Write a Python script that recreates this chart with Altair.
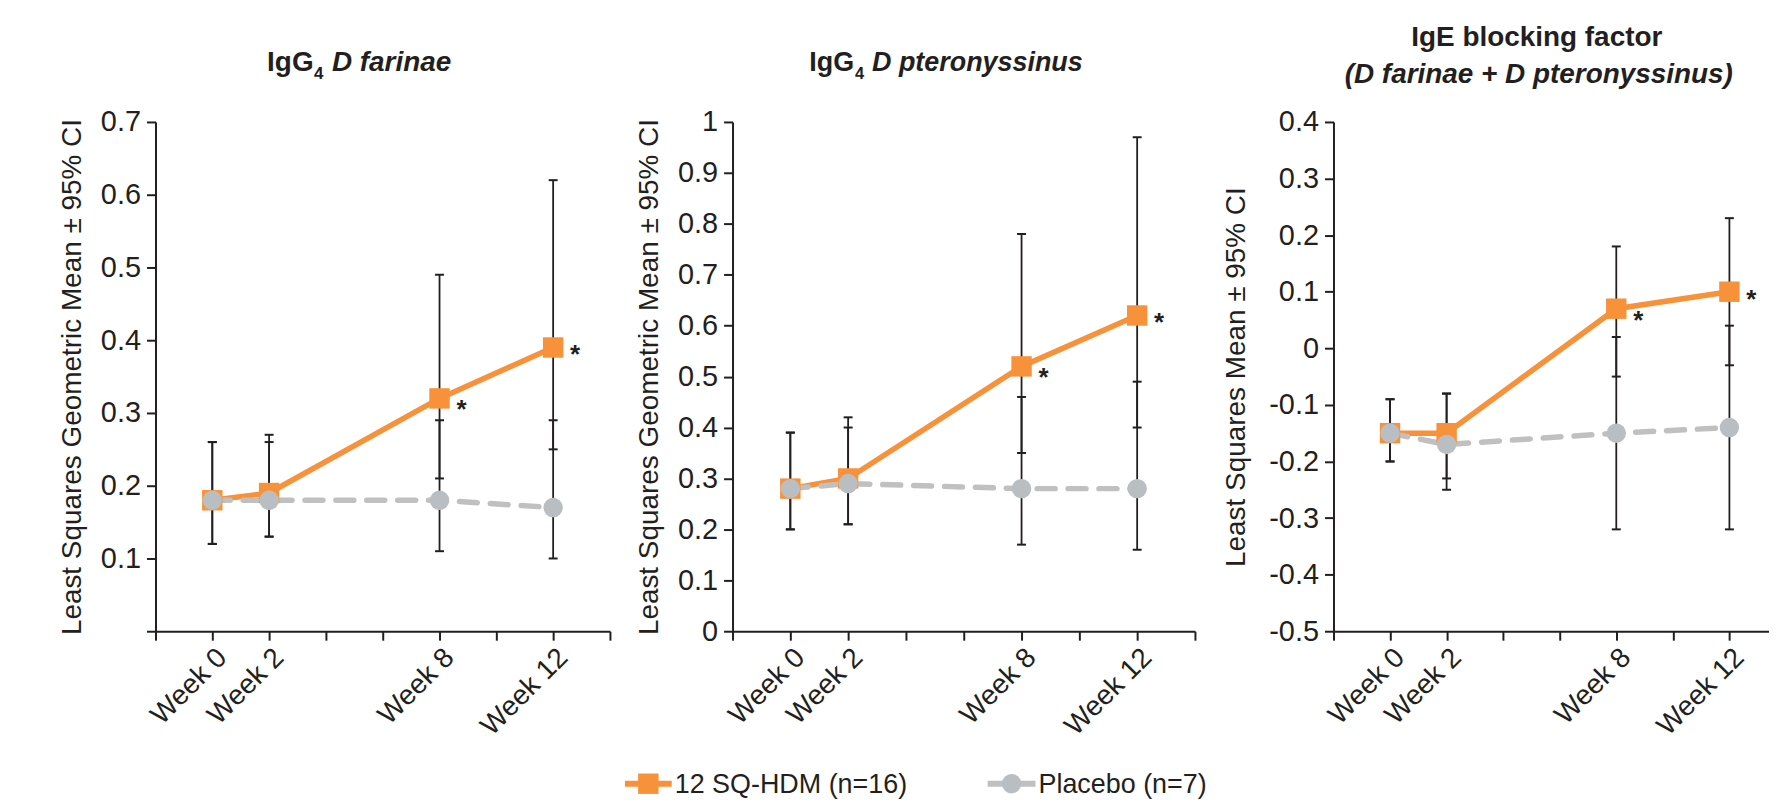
import altair as alt
import pandas as pd

FONT = "Liberation Sans"
ORANGE = "#F7923A"
GREY_PT = "#B9BEC2"
GREY_LN = "#C0C0C0"
INK = "#231F20"

weeks = [0, 2, 8, 12]
axis_tick_weeks = [-2, 0, 2, 4, 6, 8, 10, 12, 14]
labelled_weeks = [0, 2, 8, 12]
groups = ["12 SQ-HDM (n=16)", "Placebo (n=7)"]
significant = [False, False, True, True]

# IgG4 D farinae
fa_act_mean = [0.18, 0.19, 0.32, 0.39]
fa_act_lo = [0.12, 0.13, 0.21, 0.25]
fa_act_hi = [0.26, 0.26, 0.49, 0.62]
fa_pla_mean = [0.18, 0.18, 0.18, 0.17]
fa_pla_lo = [0.12, 0.13, 0.11, 0.10]
fa_pla_hi = [0.26, 0.27, 0.29, 0.29]

# IgG4 D pteronyssinus
pt_act_mean = [0.28, 0.30, 0.52, 0.62]
pt_act_lo = [0.20, 0.21, 0.35, 0.40]
pt_act_hi = [0.39, 0.40, 0.78, 0.97]
pt_pla_mean = [0.28, 0.29, 0.28, 0.28]
pt_pla_lo = [0.20, 0.21, 0.17, 0.16]
pt_pla_hi = [0.39, 0.42, 0.46, 0.49]

# IgE blocking factor
ib_act_mean = [-0.15, -0.15, 0.07, 0.10]
ib_act_lo = [-0.20, -0.23, -0.05, -0.03]
ib_act_hi = [-0.09, -0.08, 0.18, 0.23]
ib_pla_mean = [-0.15, -0.17, -0.15, -0.14]
ib_pla_lo = [-0.20, -0.25, -0.32, -0.32]
ib_pla_hi = [-0.09, -0.08, 0.02, 0.04]

fa_ticks = [0, 0.1, 0.2, 0.3, 0.4, 0.5, 0.6, 0.7]
pt_ticks = [0, 0.1, 0.2, 0.3, 0.4, 0.5, 0.6, 0.7, 0.8, 0.9, 1]
ib_ticks = [-0.5, -0.4, -0.3, -0.2, -0.1, 0, 0.1, 0.2, 0.3, 0.4]


def frame(am, al, ah, pm, pl, ph):
    rows = []
    for g, m, lo, hi in [(groups[0], am, al, ah), (groups[1], pm, pl, ph)]:
        for i, w in enumerate(weeks):
            rows.append(dict(group=g, week=w, mean=m[i], lo=lo[i], hi=hi[i],
                             sig=bool(significant[i] and g == groups[0])))
    return pd.DataFrame(rows)


def text_piece(txt, px, py, size=28, style="normal", align="left", opacity=1.0):
    return alt.Chart(pd.DataFrame({"t": [txt]})).mark_text(
        align=align, baseline="alphabetic", fontSize=size, fontWeight="bold",
        fontStyle=style, font=FONT, color=INK, opacity=opacity
    ).encode(x=alt.value(px), y=alt.value(py), text="t:N")


MINUS = "\u2212"


def panel(df, ydom, yvals, ytitle, width, xmax, titles, title_pad=14, hide_zero=False, extra=None):
    xvals = [v for v in axis_tick_weeks if v <= xmax]
    xlab = "indexof(%s, datum.value) >= 0 ? 'Week ' + datum.value : ''" % str(labelled_weeks)
    xaxis = alt.Axis(values=xvals, labelExpr=xlab, labelAngle=-45, labelOverlap=False,
                     labelFlush=False, title=None, labelFontSize=28, labelPadding=3,
                     tickSize=9, tickWidth=2, domainWidth=2, grid=False,
                     domainColor=INK, tickColor=INK, labelColor=INK, labelFont=FONT)
    ylab = "replace(format(datum.value, '.1~f'), '%s', '-')" % MINUS
    if hide_zero:
        ylab = "datum.value == 0 ? '' : " + ylab
    yaxis = alt.Axis(values=yvals, labelExpr=ylab, title=ytitle, titleFontSize=28,
                     titleFontWeight="normal", titleFont=FONT, titleColor=INK,
                     labelFontSize=29, labelFont=FONT, labelColor=INK, labelPadding=6,
                     titlePadding=title_pad, tickSize=9, tickWidth=2, domainWidth=2, grid=False,
                     domainColor=INK, tickColor=INK)
    xs = alt.Scale(domain=[-2, xmax], nice=False, zero=False)
    ys = alt.Scale(domain=ydom, nice=False, zero=False)
    X = alt.X("week:Q", scale=xs, axis=xaxis)

    def Y(f):
        return alt.Y(f + ":Q", scale=ys, axis=yaxis)

    base = alt.Chart(df)
    bars = base.mark_rule(color=INK, strokeWidth=1.8).encode(x=X, y=Y("lo"), y2="hi:Q")
    cap_lo = base.mark_tick(orient="horizontal", size=9, thickness=2, color=INK, opacity=1).encode(x=X, y=Y("lo"))
    cap_hi = base.mark_tick(orient="horizontal", size=9, thickness=2, color=INK, opacity=1).encode(x=X, y=Y("hi"))
    act = base.transform_filter(alt.datum.group == groups[0])
    pla = base.transform_filter(alt.datum.group == groups[1])
    line_a = act.mark_line(color=ORANGE, strokeWidth=5.5).encode(x=X, y=Y("mean"))
    line_p = pla.mark_line(color=GREY_LN, strokeWidth=5.5, strokeDash=[18, 13], strokeCap="round").encode(x=X, y=Y("mean"))
    sq = act.mark_point(shape="square", filled=True, size=420, color=ORANGE, opacity=1).encode(x=X, y=Y("mean"))
    ci = pla.mark_point(shape="circle", filled=True, size=380, color=GREY_PT, opacity=1).encode(x=X, y=Y("mean"))
    star8 = base.transform_filter(alt.datum.sig & (alt.datum.week == 8)).mark_text(
        text="*", dx=22, dy=20, fontSize=26, fontWeight="bold", font=FONT, color=INK,
        align="center", baseline="alphabetic").encode(x=X, y=Y("mean"))
    star12 = base.transform_filter(alt.datum.sig & (alt.datum.week == 12)).mark_text(
        text="*", dx=22, dy=16, fontSize=26, fontWeight="bold", font=FONT, color=INK,
        align="center", baseline="alphabetic").encode(x=X, y=Y("mean"))
    layers = [bars, cap_lo, cap_hi, line_a, line_p, sq, ci, star8, star12] + titles
    if extra:
        layers += extra
    return alt.layer(*layers).properties(width=width, height=511)


# manual legend (line + marker + label), placed below the middle panel
legend_df = pd.DataFrame({"group": groups})
LEG_Y = 664


def legend_entry(i, x0, x1, shape, mcolor, lcolor, msize):
    d = alt.Chart(legend_df.iloc[[i]])
    ln = d.mark_rule(color=lcolor, strokeWidth=6).encode(
        x=alt.value(x0), x2=alt.value(x1), y=alt.value(LEG_Y))
    mk = d.mark_point(shape=shape, filled=True, size=msize, color=mcolor, opacity=1).encode(
        x=alt.value((x0 + x1) / 2), y=alt.value(LEG_Y))
    tx = d.mark_text(align="left", baseline="middle", fontSize=27, font=FONT, color=INK).encode(
        x=alt.value(x1 + 3), y=alt.value(LEG_Y + 1), text="group:N")
    return [ln, mk, tx]


legend_layers = (legend_entry(0, -108, -61, "square", ORANGE, ORANGE, 420)
                 + legend_entry(1, 256, 304, "circle", GREY_PT, GREY_LN, 380))
# invisible spacer keeping the gap before the right-hand panel
legend_layers.append(text_piece(".", 492, 0, size=27, opacity=0))

t1 = [
    text_piece("IgE", 204, -76, align="center", opacity=0),
    text_piece("IgG", 112, -51),
    text_piece("4", 159, -43, size=17),
    text_piece("D farinae", 177, -51, style="italic"),
]
t2 = [
    text_piece("IgE", 204, -76, align="center", opacity=0),
    text_piece("IgG", 77, -51, size=27),
    text_piece("4", 123, -43, size=16.5),
    text_piece("D pteronyssinus", 140, -51, size=27, style="italic"),
]
t3 = [
    text_piece("IgE blocking factor", 204, -76, align="center"),
    text_piece("(D farinae +  D pteronyssinus)", 206, -39, align="center", style="italic"),
]

p1 = panel(frame(fa_act_mean, fa_act_lo, fa_act_hi, fa_pla_mean, fa_pla_lo, fa_pla_hi),
           [0, 0.7], fa_ticks, "Least Squares Geometric Mean \u00b1 95% CI", 456, 14, t1,
           title_pad=14, hide_zero=True)
p2 = panel(frame(pt_act_mean, pt_act_lo, pt_act_hi, pt_pla_mean, pt_pla_lo, pt_pla_hi),
           [0, 1], pt_ticks, "Least Squares Geometric Mean \u00b1 95% CI", 464, 14, t2,
           title_pad=14, extra=legend_layers)
p3 = panel(frame(ib_act_mean, ib_act_lo, ib_act_hi, ib_pla_mean, ib_pla_lo, ib_pla_hi),
           [-0.5, 0.4], ib_ticks, "Least Squares Mean \u00b1 95% CI", 437, 13.4, t3,
           title_pad=18)

chart = alt.hconcat(p1, p2, p3, spacing=-8).properties(
    padding={"left": 50, "top": 15, "right": 0, "bottom": 0}, background="white"
).configure(font=FONT).configure_view(stroke=None)

chart.save("out.html", embed_options={"renderer": "svg", "actions": False})
